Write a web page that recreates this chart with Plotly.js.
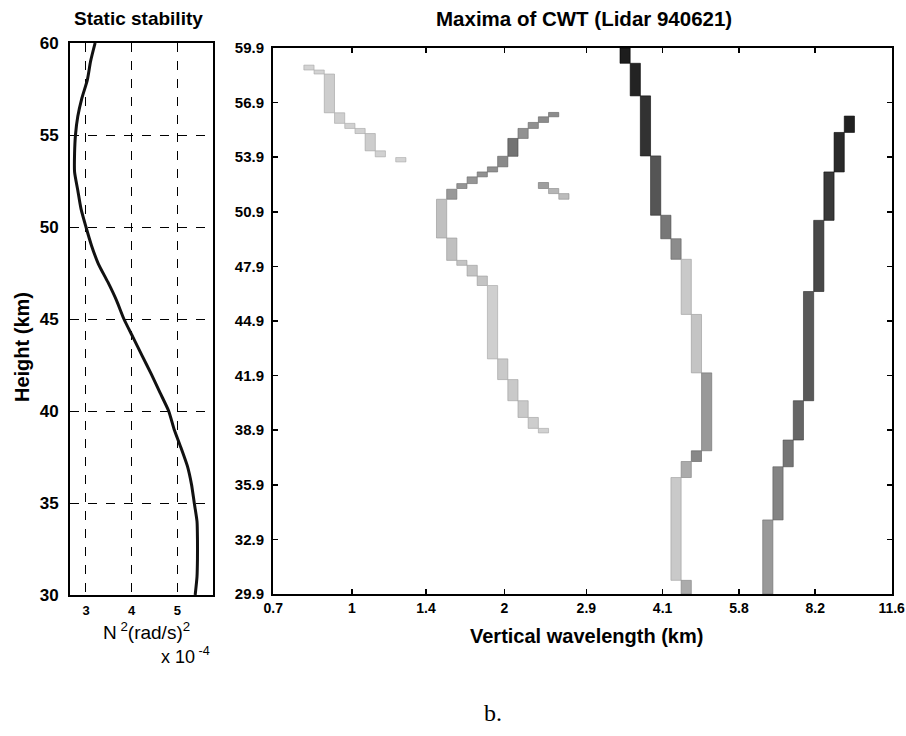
<!DOCTYPE html>
<html>
<head>
<meta charset="utf-8">
<script src="https://cdn.plot.ly/plotly-3.0.1.min.js"></script>
<style>
html,body{margin:0;padding:0;background:#fff;}
#chart{width:906px;height:736px;}
</style>
</head>
<body>
<div id="chart"></div>
<script>
// ---------- Static stability profile ----------
const heightKm = [60,59,58,57,56,55,54,53,52,51,50,49,48,47,46,45,44,43,42,41,40,39,38,37,36,35,34,33,32,31,30];
const n2Values = [3.20,3.10,3.03,2.91,2.82,2.77,2.75,2.75,2.82,2.89,3.00,3.12,3.27,3.48,3.67,3.83,4.03,4.23,4.43,4.62,4.81,4.93,5.08,5.22,5.31,5.37,5.43,5.44,5.44,5.43,5.39];
const n2TickVals = [3,4,5];
const heightTickVals = [30,35,40,45,50,55,60];

// ---------- CWT maxima ridges (wavelength km, cell top km, cell bottom km, amplitude 0-1) ----------
const ridge1Lambda = [0.823,0.862,0.903,0.946,0.991,1.038,1.087,1.138,1.249];
const ridge1Top    = [58.96,58.69,58.47,56.34,55.76,55.48,55.20,54.25,53.88];
const ridge1Bottom = [58.69,58.47,56.34,55.76,55.48,55.20,54.25,53.92,53.64];
const ridge1Amp    = [0.11,0.11,0.14,0.13,0.12,0.12,0.14,0.12,0.11];

const ridge2Lambda = [2.500,2.387,2.279,2.176,2.078,1.984,1.894,1.808,1.727,1.648,1.574,1.503,1.574,1.648,1.727,1.808,1.894,1.984,2.078,2.176,2.279,2.387];
const ridge2Top    = [56.36,56.12,55.81,55.48,54.93,53.95,53.37,53.09,52.82,52.45,52.14,51.59,49.46,48.23,47.96,47.37,46.85,42.82,41.68,40.52,39.60,39.00];
const ridge2Bottom = [56.12,55.81,55.48,54.93,53.95,53.37,53.09,52.82,52.45,52.18,51.59,49.46,48.23,47.96,47.37,46.85,42.82,41.68,40.52,39.60,39.00,38.75];
const ridge2Amp    = [0.44,0.44,0.42,0.42,0.56,0.45,0.42,0.42,0.40,0.40,0.38,0.20,0.20,0.18,0.18,0.18,0.13,0.16,0.16,0.16,0.14,0.12];

const ridge3Lambda = [2.387,2.500,2.619];
const ridge3Top    = [52.51,52.18,51.90];
const ridge3Bottom = [52.18,51.90,51.59];
const ridge3Amp    = [0.36,0.25,0.22];

const ridge4Lambda = [3.458,3.622,3.793,3.973,4.161,4.358,4.565,4.781,5.008,4.781,4.565,4.358,4.565];
const ridge4Top    = [59.90,59.06,57.27,53.97,50.71,49.42,48.29,45.26,42.05,37.77,37.18,36.30,30.65];
const ridge4Bottom = [59.06,57.27,53.97,50.71,49.42,48.29,45.26,42.05,37.77,37.18,36.30,30.65,29.90];
const ridge4Amp    = [0.96,0.93,0.86,0.70,0.54,0.44,0.16,0.18,0.38,0.46,0.30,0.16,0.30];

const ridge5Lambda = [9.575,9.142,8.728,8.333,7.956,7.596,7.252,6.924,6.611];
const ridge5Top    = [56.16,55.26,53.09,50.43,46.52,40.52,38.36,36.89,33.97];
const ridge5Bottom = [55.26,53.09,50.43,46.52,40.52,38.36,36.89,33.97,29.90];
const ridge5Amp    = [0.94,0.90,0.83,0.76,0.68,0.62,0.55,0.48,0.38];

const wavelengthTickVals = [0.7,1,1.4,2,2.9,4.1,5.8,8.2,11.6];
const wavelengthTickText = ['0.7','1','1.4','2','2.9','4.1','5.8','8.2','11.6'];
const cwtHeightTickVals = [29.9,32.9,35.9,38.9,41.9,44.9,47.9,50.9,53.9,56.9,59.9];

// ---------- build ----------
const W = 906, H = 736;
const px = v => v / W;
const py = v => 1 - v / H;
const BOLD = 'Liberation Sans, Arial, sans-serif';
const NARROW = 'Liberation Sans Narrow, Liberation Sans, Arial, sans-serif';
const halfBin = 1.02342; // half of one CWT scale bin (multiplicative, log axis)

const traces = [];
traces.push({
  x: n2Values, y: heightKm, type: 'scatter', mode: 'lines',
  line: {color: '#111', width: 3, shape: 'spline', smoothing: 0.6},
  xaxis: 'x', yaxis: 'y', hoverinfo: 'skip', showlegend: false
});

function grey(a) {
  const g = Math.round(235 - 215 * a);
  return 'rgb(' + g + ',' + g + ',' + g + ')';
}
function edge(a) {
  const g = Math.max(0, Math.round(235 - 215 * a) - 45);
  return 'rgb(' + g + ',' + g + ',' + g + ')';
}
function addRidge(lam, top, bot, amp) {
  for (let i = 0; i < lam.length; i++) {
    const x0 = lam[i] / halfBin, x1 = lam[i] * halfBin;
    traces.push({
      x: [x0, x1, x1, x0, x0], y: [top[i], top[i], bot[i], bot[i], top[i]],
      type: 'scatter', mode: 'lines', fill: 'toself',
      fillcolor: grey(amp[i]), line: {color: edge(amp[i]), width: 0.6},
      xaxis: 'x2', yaxis: 'y2', hoverinfo: 'skip', showlegend: false
    });
  }
}
addRidge(ridge1Lambda, ridge1Top, ridge1Bottom, ridge1Amp);
addRidge(ridge2Lambda, ridge2Top, ridge2Bottom, ridge2Amp);
addRidge(ridge3Lambda, ridge3Top, ridge3Bottom, ridge3Amp);
addRidge(ridge4Lambda, ridge4Top, ridge4Bottom, ridge4Amp);
addRidge(ridge5Lambda, ridge5Top, ridge5Bottom, ridge5Amp);

const layout = {
  width: W, height: H,
  margin: {l: 0, r: 0, t: 0, b: 0},
  paper_bgcolor: '#fff', plot_bgcolor: '#fff',
  showlegend: false,
  xaxis: {
    domain: [px(70), px(213)], anchor: 'y',
    range: [2.65, 5.78], tickvals: n2TickVals, ticktext: n2TickVals.map(String),
    showgrid: true, griddash: 'dash', gridcolor: '#000', gridwidth: 1,
    showline: true, linecolor: '#000', linewidth: 2, mirror: true,
    ticks: '', zeroline: false, ticklabelstandoff: 2,
    tickfont: {family: BOLD, size: 13, color: '#000', weight: 'bold'}
  },
  yaxis: {
    domain: [py(595), py(43)], anchor: 'x',
    range: [30, 60], tickvals: heightTickVals, ticktext: heightTickVals.map(String),
    showgrid: true, griddash: 'dash', gridcolor: '#000', gridwidth: 1,
    showline: true, linecolor: '#000', linewidth: 2, mirror: true,
    ticks: '', zeroline: false, ticklabelstandoff: 6,
    tickfont: {family: BOLD, size: 17, color: '#000', weight: 'bold'}
  },
  xaxis2: {
    domain: [px(273), px(892)], anchor: 'y2',
    type: 'log', range: [Math.log10(0.699), Math.log10(11.62)],
    tickvals: wavelengthTickVals, ticktext: wavelengthTickText,
    showgrid: false, zeroline: false, ticklabeloverflow: 'allow',
    showline: true, linecolor: '#000', linewidth: 2, mirror: 'ticks',
    ticks: 'inside', ticklen: 5, tickwidth: 1.5, tickcolor: '#000',
    tickfont: {family: NARROW, size: 14, color: '#000', weight: 'bold'}
  },
  yaxis2: {
    domain: [py(594), py(48)], anchor: 'x2',
    range: [29.9, 59.9], tickvals: cwtHeightTickVals, ticktext: cwtHeightTickVals.map(v => v.toFixed(1)),
    showgrid: false, zeroline: false,
    showline: true, linecolor: '#000', linewidth: 2, mirror: 'ticks',
    ticks: 'inside', ticklen: 5, tickwidth: 1.5, tickcolor: '#000',
    ticklabelstandoff: 4,
    tickfont: {family: NARROW, size: 15, color: '#000', weight: 'bold'}
  },
  annotations: [
    {text: '<b>Static stability</b>', x: px(138), y: py(18), xref: 'paper', yref: 'paper',
     xanchor: 'center', yanchor: 'middle', showarrow: false, font: {family: BOLD, size: 19, color: '#000'}},
    {text: '<b>Maxima of CWT (Lidar 940621)</b>', x: px(584), y: py(18), xref: 'paper', yref: 'paper',
     xanchor: 'center', yanchor: 'middle', showarrow: false, font: {family: BOLD, size: 20.5, color: '#000'}},
    {text: '<b>Height (km)</b>', x: px(22), y: py(347), xref: 'paper', yref: 'paper', textangle: -90,
     xanchor: 'center', yanchor: 'middle', showarrow: false, font: {family: BOLD, size: 20, color: '#000'}},
    {text: '<b>Vertical wavelength (km)</b>', x: px(586), y: py(636), xref: 'paper', yref: 'paper',
     xanchor: 'center', yanchor: 'middle', showarrow: false, font: {family: BOLD, size: 20, color: '#000'}},
    {text: 'N<sup> 2</sup>(rad/s)<sup>2</sup>', x: px(146), y: py(631), xref: 'paper', yref: 'paper',
     xanchor: 'center', yanchor: 'middle', showarrow: false, font: {family: 'Liberation Sans, Arial, sans-serif', size: 19, color: '#000'}},
    {text: 'x 10<sup> -4</sup>', x: px(185), y: py(655), xref: 'paper', yref: 'paper',
     xanchor: 'center', yanchor: 'middle', showarrow: false, font: {family: 'Liberation Sans, Arial, sans-serif', size: 18, color: '#000'}},
    {text: 'b.', x: px(493), y: py(713), xref: 'paper', yref: 'paper',
     xanchor: 'center', yanchor: 'middle', showarrow: false, font: {family: 'Liberation Serif, Times New Roman, serif', size: 24, color: '#000'}}
  ]
};

Plotly.newPlot('chart', traces, layout, {staticPlot: true, displayModeBar: false});
</script>
</body>
</html>
